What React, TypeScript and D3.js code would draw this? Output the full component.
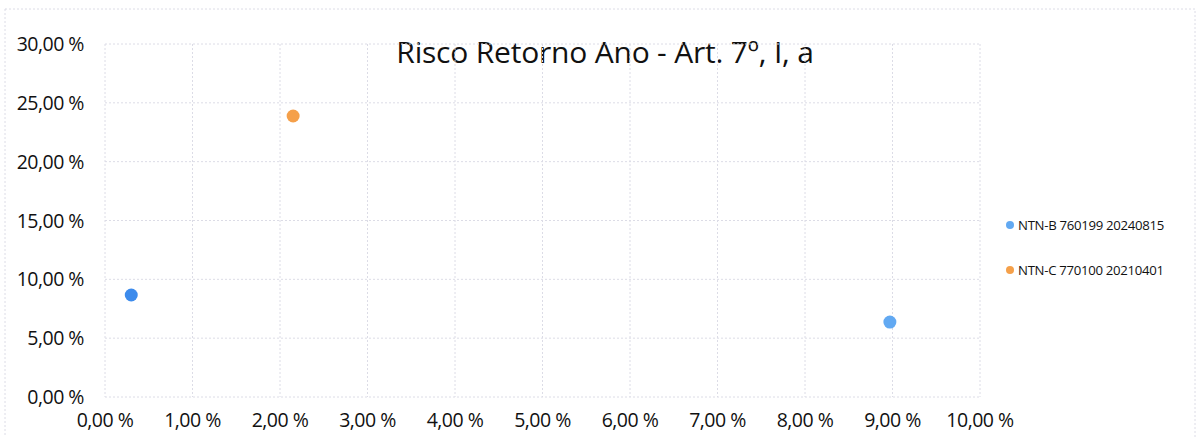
import * as d3 from "d3";

const WIDTH = 1200;
const HEIGHT = 437;
const MARGIN = { top: 44, right: 220, bottom: 40, left: 105 };

const TITLE = "Risco Retorno Ano - Art. 7º, I, a";

// risk (x, %) and return (y, %)
const seriesNames = ["NTN-B 760199 20240815", "NTN-C 770100 20210401", ""];
const seriesColors = ["#62a9f2", "#f5a04a", "#3d8bec"];
const xValues = [8.97, 2.15, 0.3];
const yValues = [6.37, 23.88, 8.67];

const xTicks = [0, 1, 2, 3, 4, 5, 6, 7, 8, 9, 10];
const yTicks = [0, 5, 10, 15, 20, 25, 30];

const FONT = "'Open Sans', sans-serif";
const fmt = (v: number) => v.toFixed(2).replace(".", ",") + " %";

export default function App() {
  const boundsWidth = WIDTH - MARGIN.left - MARGIN.right;
  const boundsHeight = HEIGHT - MARGIN.top - MARGIN.bottom;

  const xScale = d3.scaleLinear().domain([0, 10]).range([0, boundsWidth]);
  const yScale = d3.scaleLinear().domain([0, 30]).range([boundsHeight, 0]);

  const gridColor = "#dcdce6";

  return (
    <div style={{ position: "absolute", left: 0, top: 0 }}>
      <svg width={WIDTH} height={HEIGHT} style={{ display: "block", background: "#fff" }}>
        <rect
          x={5}
          y={9}
          width={WIDTH - 10}
          height={HEIGHT}
          fill="none"
          stroke={gridColor}
          strokeDasharray="2 2"
        />
        <text
          x={605}
          y={63}
          textAnchor="middle"
          fontFamily={FONT}
          fontSize={30}
          letterSpacing={-0.2}
          fill="#111"
        >
          {TITLE}
        </text>
        <g transform={`translate(${MARGIN.left},${MARGIN.top})`}>
          {yTicks.map((t) => (
            <g key={"y" + t}>
              <line
                x1={0}
                x2={boundsWidth}
                y1={yScale(t)}
                y2={yScale(t)}
                stroke={gridColor}
                strokeDasharray="2 2"
              />
              <text
                x={-21}
                y={yScale(t)}
                dy="0.36em"
                textAnchor="end"
                fontFamily={FONT}
                fontSize={19.5}
                letterSpacing={-0.5}
                fill="#111"
              >
                {fmt(t)}
              </text>
            </g>
          ))}
          {xTicks.map((t) => (
            <g key={"x" + t}>
              <line
                x1={xScale(t)}
                x2={xScale(t)}
                y1={0}
                y2={boundsHeight}
                stroke={gridColor}
                strokeDasharray="2 2"
              />
              <text
                x={xScale(t)}
                y={boundsHeight + 30}
                textAnchor="middle"
                fontFamily={FONT}
                fontSize={19.5}
                letterSpacing={-0.5}
                fill="#111"
              >
                {fmt(t)}
              </text>
            </g>
          ))}
          {xValues.map((x, i) => (
            <circle
              key={"p" + i}
              cx={xScale(x)}
              cy={yScale(yValues[i])}
              r={6.5}
              fill={seriesColors[i]}
            />
          ))}
        </g>
        {seriesNames.map((name, i) =>
          name ? (
            <g key={"l" + i} transform={`translate(1010,${225 + i * 45})`}>
              <circle cx={0} cy={0} r={4} fill={seriesColors[i]} />
              <text
                x={8}
                y={0}
                dy="0.35em"
                fontFamily={FONT}
                fontSize={13.2}
                letterSpacing={-0.3}
                fill="#111"
              >
                {name}
              </text>
            </g>
          ) : null
        )}
      </svg>
    </div>
  );
}
